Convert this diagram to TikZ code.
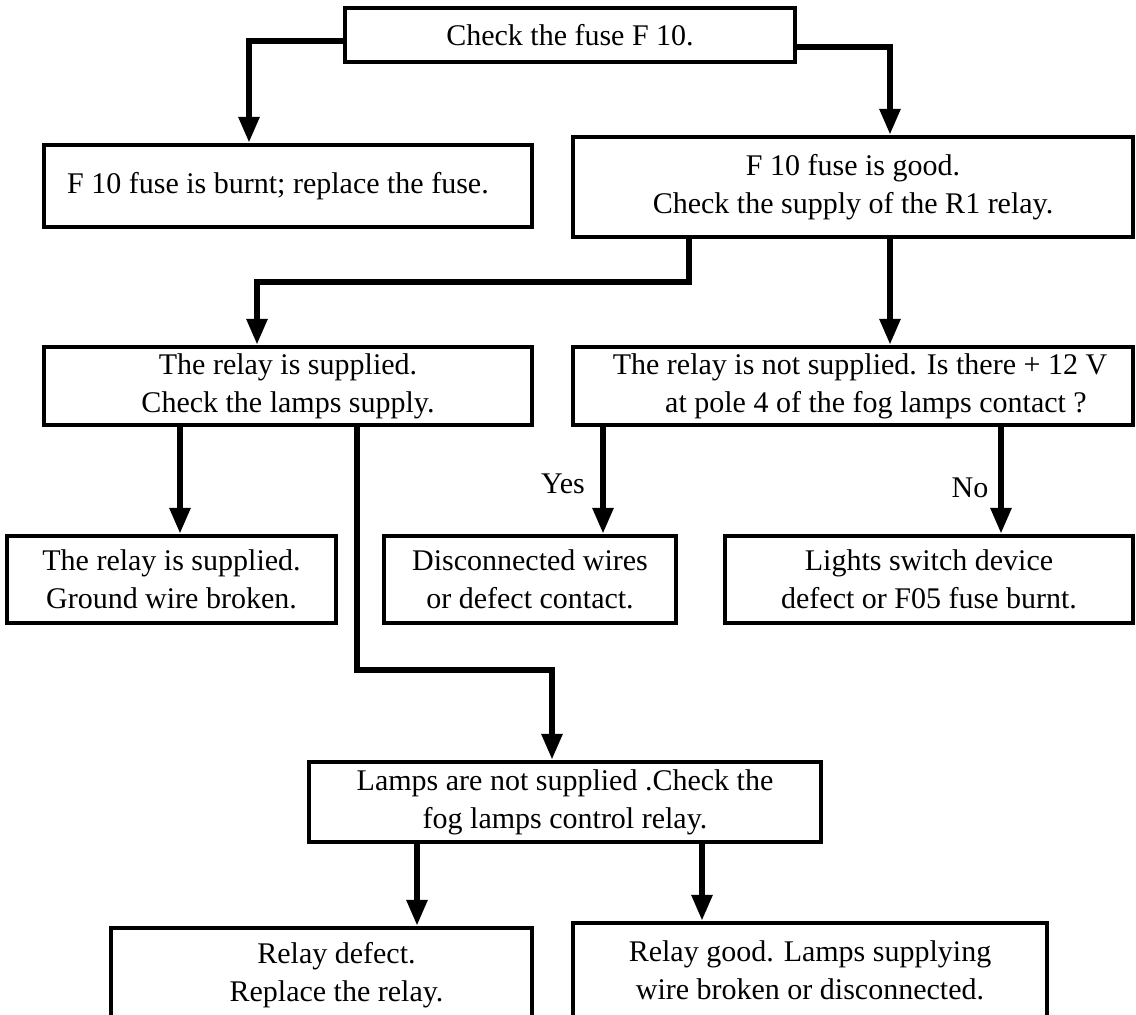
\documentclass[tikz,border=0pt]{standalone}
\usepackage{fontspec}
\setmainfont{Liberation Serif}
\usetikzlibrary{arrows.meta}

\begin{document}
\begin{tikzpicture}[
    x=1pt, y=-1pt,
    font=\fontsize{30}{38}\selectfont,
    box/.style={draw, line width=4.5pt, rectangle, inner sep=0pt,
                align=center, fill=white},
    arr/.style={line width=6pt, -{Triangle[length=26pt,width=20pt]}},
    tag/.style={inner sep=0pt}
]
% page frame
\path[use as bounding box, fill=white] (0,0) rectangle (1136,1015);
\clip (0,0) rectangle (1136,1015);

% boxes
\node[box, minimum width=450pt, minimum height=54pt] (A) at (570,35)
  {Check the fuse F 10.};
\node[box, minimum width=488pt, minimum height=82pt] (B) at (288,186)
  {\hspace*{-20pt}F 10 fuse is burnt; replace the fuse.};
\node[box, minimum width=560pt, minimum height=100pt] (C) at (853,187)
  {F 10 fuse is good.\\Check the supply of the R1 relay.};
\node[box, minimum width=488pt, minimum height=78pt] (D) at (288,386)
  {The relay is supplied.\\Check the lamps supply.};
\node[box, minimum width=560pt, minimum height=78pt] (E) at (853,386)
  {\hspace*{14pt}The relay is not supplied. Is there + 12 V\\\hspace*{46pt}at pole 4 of the fog lamps contact ?};
\node[box, minimum width=329pt, minimum height=87pt] (F) at (171.5,579.5)
  {The relay is supplied.\\Ground wire broken.};
\node[box, minimum width=292pt, minimum height=87pt] (G) at (530,579.5)
  {Disconnected wires\\or defect contact.};
\node[box, minimum width=408pt, minimum height=87pt] (H) at (929,579.5)
  {Lights switch device\\defect or F05 fuse burnt.};
\node[box, minimum width=512pt, minimum height=80pt] (I) at (565,802)
  {Lamps are not supplied .Check the\\fog lamps control relay.};
\node[box, minimum width=421pt, minimum height=94pt] (J) at (321.5,975)
  {\hspace*{30pt}Relay defect.\\\hspace*{30pt}Replace the relay.};
\node[box, minimum width=474pt, minimum height=94pt] (K) at (810,970)
  {Relay good. Lamps supplying\\wire broken or disconnected.};

% bend points of the connectors
\coordinate (ab) at (249,41);
\coordinate (ac) at (890,47);
\coordinate (cd1) at (689,282);
\coordinate (cd2) at (257,282);
\coordinate (df) at (180,0);
\coordinate (di1) at (357,670);
\coordinate (di2) at (552,670);
\coordinate (eg) at (603,0);
\coordinate (eh) at (1001,0);
\coordinate (ij) at (417,0);
\coordinate (ik) at (702,0);

% connectors
\draw[arr] (A.west |- ab) -| (B.north -| ab);
\draw[arr] (A.east |- ac) -| (C.north -| ac);
\draw[arr] (C.south -| cd1) -- (cd1) -- (cd2) -- (D.north -| cd2);
\draw[arr] (C.south -| ac) -- (E.north -| ac);
\draw[arr] (D.south -| df) -- (F.north -| df);
\draw[arr] (D.south -| di1) -- (di1) -- (di2) -- (I.north -| di2);
\draw[arr] (E.south -| eg) -- (G.north -| eg);
\draw[arr] (E.south -| eh) -- (H.north -| eh);
\draw[arr] (I.south -| ij) -- (J.north -| ij);
\draw[arr] (I.south -| ik) -- (K.north -| ik);

% branch labels
\node[tag] (yes) at (563,484) {Yes};
\node[tag] (no) at (970,488) {No};
\end{tikzpicture}
\end{document}
